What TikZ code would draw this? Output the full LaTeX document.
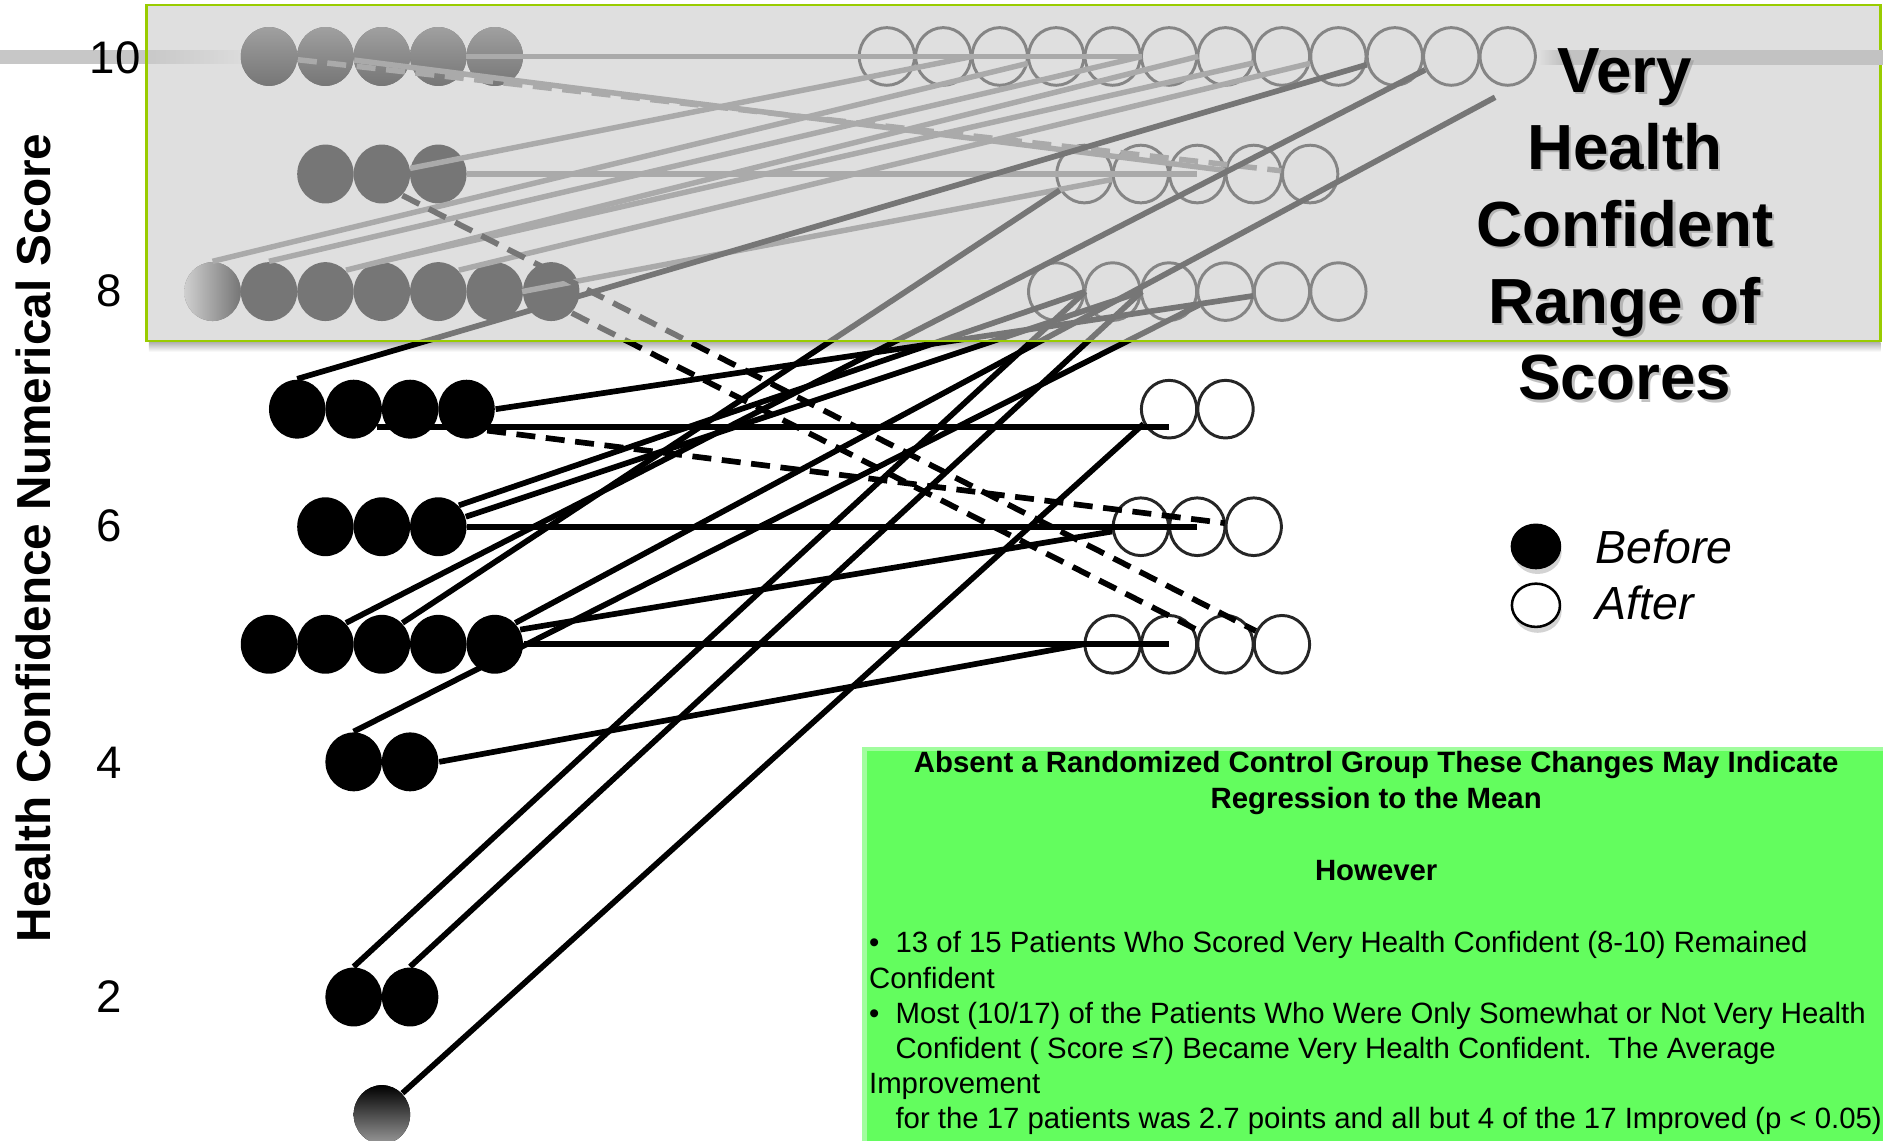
\documentclass[tikz,border=0pt]{standalone}
\usepackage{fontspec}
\setmainfont{Liberation Sans}
\usetikzlibrary{shapes.geometric,shadows}
\definecolor{frame}{RGB}{153,204,0}
\definecolor{note}{RGB}{99,253,94}
\tikzset{
    before/.style={ellipse, fill=black, minimum width=0.47cm, minimum height=0.49cm, inner sep=0pt},
    after/.style={ellipse, draw=black!85, line width=0.7pt, minimum width=0.46cm, minimum height=0.48cm, inner sep=0pt},
    row10/.style={top color=black!60, bottom color=black},
    dot8-1/.style={left color=black!15, right color=black},
    dot1-1/.style={top color=black, bottom color=black!40},
    link/.style={line width=1.35pt, black},
    pale/.style={line width=1.3pt, black!50},
    drop/.style={dash pattern=on 4.5pt off 2.5pt},
    tick/.style={font=\fontsize{10.8}{13}\selectfont, inner sep=0pt},
    vhc/.style={align=center, inner sep=0pt, font=\fontsize{15.1}{18.2}\selectfont\bfseries},
    key/.style={ellipse, draw=black, line width=0.6pt, minimum width=0.40cm, minimum height=0.36cm, inner sep=0pt,
        drop shadow={shadow xshift=0.4pt, shadow yshift=-1.4pt, opacity=0.35}},
    notetext/.style={inner sep=0pt, font=\fontsize{6.95}{8.34}\selectfont}
}
\begin{document}
\begin{tikzpicture}[x=0.01cm, y=-0.01cm]
\useasboundingbox (0,0) rectangle (1568,950);
\fill[black!22] (0,42) rectangle (122,53);
\shade[left color=black!22, right color=white] (122,42) rectangle (215,53);
\shade[top color=black!30, bottom color=white] (124,285) rectangle (1566,293);

\foreach \s/\n in {10/5,9/3,8/7,7/4,6/3,5/5,4/2,2/2,1/1}
    \foreach \i in {1,...,\n}
        \node[before, row\s/.try, dot\s-\i/.try] (b\s-\i) at ({318+47*(\i-(\n+1)/2)}, {47+97.9*(10-\s)}) {};
\foreach \s/\n in {10/12,9/5,8/6,7/2,6/3,5/4}
    \foreach \i in {1,...,\n}
        \node[after] (a\s-\i) at ({997+47*(\i-(\n+1)/2)}, {47+97.9*(10-\s)}) {};
\coordinate (stray) at (1245,81);

\draw[pale] (b10-5.west) -- (b10-5.west -| a10-5.east);
\draw[pale] (b10-2) -- (a9-4);
\draw[pale, drop] (b10-1) -- (a9-5);
\draw[pale] (b9-2) -- (a10-2.east);
\draw[pale] (b9-3.east) -- (b9-3.east -| a9-3);
\draw[pale] (b8-1.north) -- (a10-4);
\draw[pale] (b8-2.north) -- (a10-5.east);
\draw[pale] (b8-3.north east) -- (a10-6.east);
\draw[pale] (b8-4.north) -- (a10-8);
\draw[pale] (b8-5.north east) -- (a10-9);
\draw[pale] (b8-7.west) -- (a9-2);

\draw[link, drop] (b9-2.south east) -- (a5-4);
\draw[link, drop] (b8-7.south east) -- (a5-3);
\draw[link, drop] (b7-4.south east) -- (a6-3);

\draw[link] (b7-1.north) -- (a10-10);
\draw[link] (b7-4.east) -- (a8-5);
\draw[link] (b7-2.-38) -- (b7-2.-38 -| a7-1);
\draw[link] (b6-3.north east) -- (a8-1.east);
\draw[link] (b6-3.20) -- (a8-2.east);
\draw[link] (b6-3.east) -- (b6-3.east -| a6-2);
\draw[link] (b5-5.east) -- (b5-5.east -| a5-2);
\draw[link] (b5-5.30) -- (a6-1);
\draw[link] (b5-5.north east) -- (stray);
\draw[link] (b5-2.north east) -- (a10-11);
\draw[link] (b5-3.north east) -- (a9-1);
\draw[link] (b4-2.east) -- (a5-1.west);
\draw[link] (b4-1.north) -- (a8-4);
\draw[link] (b2-1.north) -- (a8-1.east);
\draw[link] (b2-2.north) -- (a8-2.east);
\draw[link] (b1-1.north east) -- (a7-1.-150);

\fill[black!21, fill opacity=0.59] (122,4) rectangle (1566,284);
\draw[frame, line width=0.6pt] (122,4) rectangle (1566,284);
\shade[left color=black!12, right color=black!24] (1280,42) rectangle (1300,54);
\fill[black!24] (1300,42) rectangle (1568,54);

\node[vhc, text=black!40, opacity=0.6] (vhc-sh) at (1355,189) {Very\\Health\\Confident\\Range of\\Scores};
\node[vhc] (vhc) at (1353,187) {Very\\Health\\Confident\\Range of\\Scores};

\node[tick] (t10) at (96,48) {10};
\node[tick] (t8) at (91,242) {8};
\node[tick] (t6) at (91,438) {6};
\node[tick] (t4) at (91,635) {4};
\node[tick] (t2) at (91,830) {2};
\node[rotate=90, inner sep=0pt, font=\fontsize{11.3}{13}\selectfont\bfseries] (ytitle) at (28,448) {Health Confidence Numerical Score};

\node[key, fill=black] (kb) at (1279,455) {};
\node[key, fill=white] (ka) at (1279,504) {};
\node[anchor=west, inner sep=0pt, font=\fontsize{11}{13}\selectfont\itshape] (kbt) at (1328,455) {Before};
\node[anchor=west, inner sep=0pt, font=\fontsize{11}{13}\selectfont\itshape] (kat) at (1328,502) {After};

\fill[note] (718,622) rectangle (1568,950);
\draw[white, opacity=0.4, line width=1.5pt] (719,951) -- (719,623) -- (1568,623);
\node[notetext, font=\fontsize{6.95}{8.34}\selectfont\bfseries, align=center] (gtitle) at (1146,652)
    {Absent a Randomized Control Group These Changes May Indicate\\Regression to the Mean};
\node[notetext, font=\fontsize{6.95}{8.34}\selectfont\bfseries] (however) at (1146,725) {However};
\node[notetext, align=left, anchor=north west] (gbody) at (723,775)
    {•\ \ 13 of 15 Patients Who Scored Very Health Confident (8-10) Remained\\
     Confident\\
     •\ \ Most (10/17) of the Patients Who Were Only Somewhat or Not Very Health\\
     \hspace*{0.22cm}Confident ( Score ≤7) Became Very Health Confident.\ \ The Average\\
     Improvement\\
     \hspace*{0.22cm}for the 17 patients was 2.7 points and all but 4 of the 17 Improved (p < 0.05)};
\end{tikzpicture}
\end{document}
